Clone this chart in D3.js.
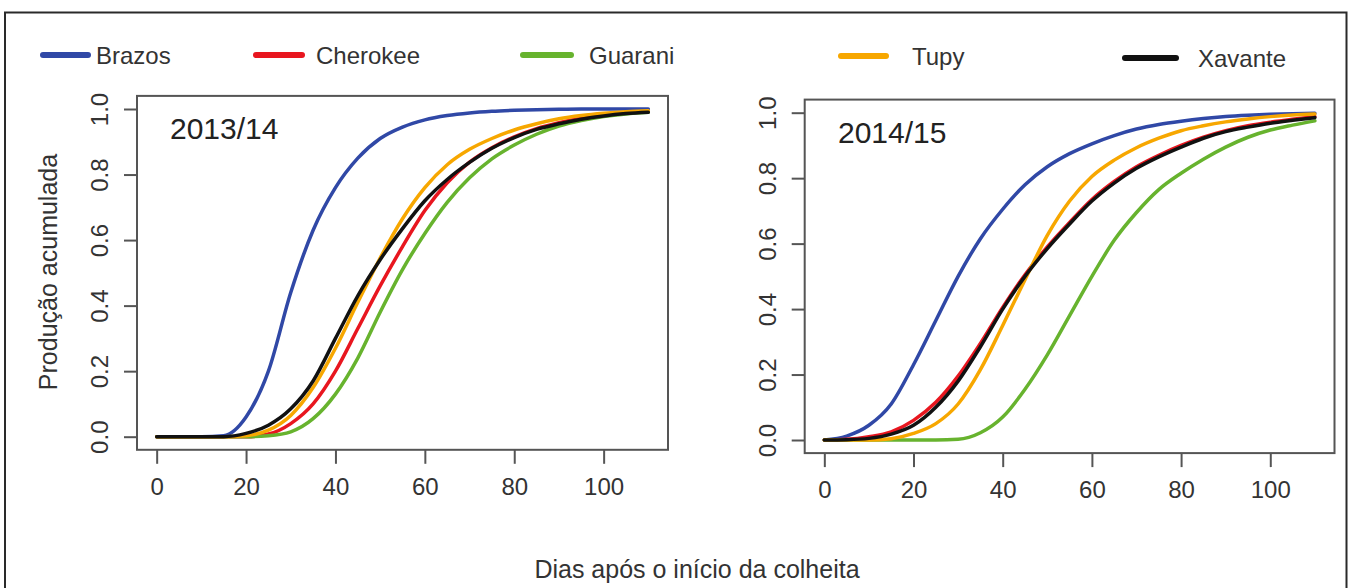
<!DOCTYPE html>
<html>
<head>
<meta charset="utf-8">
<script src="https://cdn.jsdelivr.net/npm/d3@7"></script>
<style>
  html, body { margin: 0; padding: 0; background: #fff; }
  svg { display: block; font-family: "Liberation Sans", Arial, sans-serif; }
</style>
</head>
<body>
<svg id="chart" width="1350" height="588"></svg>
<script>
// ---------------- data ----------------
const days = [0, 5, 10, 15, 20, 25, 30, 35, 40, 45, 50, 55, 60, 65, 70, 75, 80, 85, 90, 95, 100, 105, 110];
const cultivars = ["Brazos", "Cherokee", "Guarani", "Tupy", "Xavante"];
const seasons = ["2013/14", "2014/15"];
const xTicks = [0, 20, 40, 60, 80, 100];
const yTicks = [0, 0.2, 0.4, 0.6, 0.8, 1.0];

// 2013/14
const brazos1314   = [0, 0, 0, 0.003, 0.06, 0.2, 0.44, 0.63, 0.76, 0.85, 0.91, 0.945, 0.967, 0.98, 0.988, 0.993, 0.996, 0.998, 0.999, 1.0, 1.0, 1.0, 1.0];
const cherokee1314 = [0, 0, 0, 0, 0, 0.008, 0.04, 0.1, 0.2, 0.33, 0.46, 0.58, 0.69, 0.775, 0.838, 0.882, 0.915, 0.94, 0.958, 0.972, 0.982, 0.988, 0.992];
const guarani1314  = [0, 0, 0, 0, 0, 0.003, 0.015, 0.055, 0.13, 0.24, 0.38, 0.51, 0.62, 0.715, 0.79, 0.848, 0.89, 0.923, 0.948, 0.965, 0.977, 0.985, 0.99];
const tupy1314     = [0, 0, 0, 0, 0.003, 0.02, 0.065, 0.15, 0.27, 0.41, 0.545, 0.665, 0.76, 0.83, 0.877, 0.91, 0.936, 0.955, 0.97, 0.98, 0.987, 0.992, 0.995];
const xavante1314  = [0, 0, 0, 0, 0.01, 0.035, 0.085, 0.17, 0.3, 0.43, 0.54, 0.635, 0.72, 0.785, 0.837, 0.88, 0.913, 0.938, 0.955, 0.969, 0.979, 0.986, 0.99];

// 2014/15
const brazos1415   = [0, 0.012, 0.045, 0.11, 0.23, 0.365, 0.5, 0.615, 0.705, 0.78, 0.835, 0.875, 0.905, 0.93, 0.95, 0.964, 0.974, 0.982, 0.988, 0.992, 0.995, 0.997, 0.998];
const cherokee1415 = [0, 0.002, 0.01, 0.025, 0.06, 0.115, 0.195, 0.295, 0.405, 0.505, 0.59, 0.665, 0.735, 0.79, 0.835, 0.87, 0.9, 0.925, 0.945, 0.96, 0.971, 0.98, 0.988];
const guarani1415  = [0, 0, 0, 0, 0, 0, 0.002, 0.022, 0.07, 0.155, 0.26, 0.38, 0.5, 0.61, 0.695, 0.765, 0.815, 0.858, 0.895, 0.925, 0.947, 0.962, 0.975];
const tupy1415     = [0, 0, 0, 0.004, 0.02, 0.05, 0.11, 0.215, 0.35, 0.49, 0.625, 0.73, 0.805, 0.855, 0.893, 0.922, 0.945, 0.96, 0.972, 0.981, 0.988, 0.993, 0.996];
const xavante1415  = [0, 0.001, 0.005, 0.018, 0.045, 0.1, 0.18, 0.285, 0.4, 0.5, 0.585, 0.66, 0.73, 0.785, 0.83, 0.865, 0.895, 0.922, 0.942, 0.956, 0.968, 0.977, 0.985];

const seasonSeries = [
  [brazos1314, cherokee1314, guarani1314, tupy1314, xavante1314],
  [brazos1415, cherokee1415, guarani1415, tupy1415, xavante1415]
];

// ---------------- styles / layout ----------------
const colors = ["#3048a6", "#e8161f", "#67b32e", "#f7a700", "#111111"];
const textColor = "#333";
const axisColor = "#555";

const svg = d3.select("#chart");

// outer frame
svg.append("path")
  .attr("d", "M5,600 L5,12.5 L1346.5,12.5 L1346.5,600")
  .attr("fill", "none").attr("stroke", "#2a2a2a").attr("stroke-width", 2);

const panels = [
  { xr: [137, 668], yr: [449.8, 95.9], labelX: 170, labelY: 139 },
  { xr: [804.7, 1334.5], yr: [453.1, 99.6], labelX: 838, labelY: 143 }
];

panels.forEach((p, i) => {
  const x = d3.scaleLinear().domain([-4.4, 114.4]).range(p.xr);
  const y = d3.scaleLinear().domain([-0.04, 1.04]).range(p.yr);
  const g = svg.append("g");

  // x axis
  const xa = g.append("g")
    .attr("transform", `translate(0,${p.yr[0]})`)
    .call(d3.axisBottom(x).tickValues(xTicks).tickSize(14).tickPadding(8).tickFormat(d3.format("d")));
  xa.select(".domain").remove();
  xa.selectAll("line").attr("stroke", axisColor).attr("stroke-width", 2);
  xa.selectAll("text").attr("fill", textColor).attr("font-size", 24)
    .attr("font-family", "Liberation Sans, Arial, sans-serif")
    .attr("dy", null).attr("y", 45);

  // y axis
  const ya = g.append("g")
    .attr("transform", `translate(${p.xr[0]},0)`)
    .call(d3.axisLeft(y).tickValues(yTicks).tickSize(13).tickFormat(d3.format(".1f")));
  ya.select(".domain").remove();
  ya.selectAll("line").attr("stroke", axisColor).attr("stroke-width", 2);
  ya.selectAll("text")
    .attr("fill", textColor).attr("font-size", 24)
    .attr("font-family", "Liberation Sans, Arial, sans-serif")
    .attr("x", null).attr("dy", null)
    .attr("text-anchor", "middle")
    .attr("transform", "translate(-29,0) rotate(-90)");

  // curves
  const line = d3.line()
    .x((d, k) => x(days[k]))
    .y(d => y(d))
    .curve(d3.curveMonotoneX);
  seasonSeries[i].forEach((vals, s) => {
    g.append("path")
      .datum(vals)
      .attr("d", line)
      .attr("fill", "none")
      .attr("stroke", colors[s])
      .attr("stroke-width", 3.5)
      .attr("stroke-linejoin", "round")
      .attr("stroke-linecap", "round");
  });

  // box
  g.append("rect")
    .attr("x", p.xr[0]).attr("y", p.yr[1])
    .attr("width", p.xr[1] - p.xr[0]).attr("height", p.yr[0] - p.yr[1])
    .attr("fill", "none").attr("stroke", axisColor).attr("stroke-width", 2);

  // season label
  g.append("text")
    .attr("x", p.labelX).attr("y", p.labelY)
    .attr("font-size", 30).attr("fill", "#222")
    .text(seasons[i]);
});

// y axis title
svg.append("text")
  .attr("transform", "translate(57,272) rotate(-90)")
  .attr("text-anchor", "middle")
  .attr("font-size", 25).attr("fill", textColor)
  .text("Produção acumulada");

// x axis title
svg.append("text")
  .attr("x", 697).attr("y", 578)
  .attr("text-anchor", "middle")
  .attr("font-size", 25).attr("fill", textColor)
  .text("Dias após o início da colheita");

// legend
const legendPos = [
  { x1: 43, x2: 88, tx: 96, y: 55 },
  { x1: 256, x2: 302, tx: 316, y: 55 },
  { x1: 523, x2: 571, tx: 589, y: 55 },
  { x1: 841, x2: 886, tx: 912, y: 56 },
  { x1: 1125, x2: 1176, tx: 1198, y: 58 }
];
const leg = svg.append("g");
cultivars.forEach((name, s) => {
  const lp = legendPos[s];
  leg.append("line")
    .attr("x1", lp.x1).attr("x2", lp.x2).attr("y1", lp.y).attr("y2", lp.y)
    .attr("stroke", colors[s]).attr("stroke-width", 6).attr("stroke-linecap", "round");
  leg.append("text")
    .attr("x", lp.tx).attr("y", lp.y + 9)
    .attr("font-size", 24).attr("fill", textColor)
    .text(name);
});
</script>
</body>
</html>
